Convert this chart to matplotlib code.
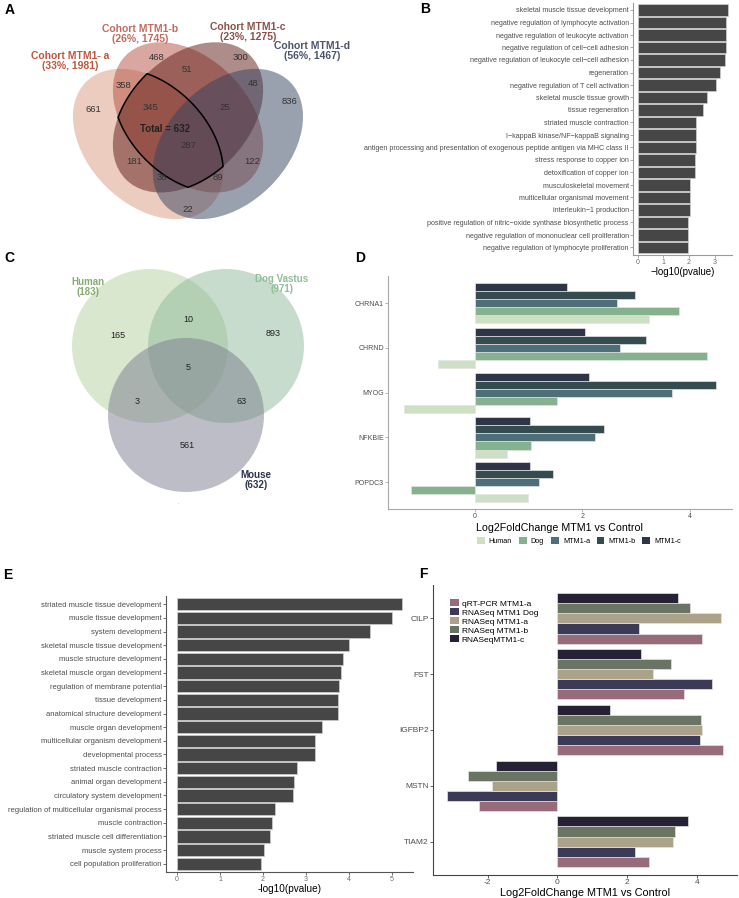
import numpy as np
import matplotlib
matplotlib.use('Agg')
import matplotlib.pyplot as plt
from matplotlib.patches import Ellipse, Patch

plt.rcParams['font.family'] = ['Liberation Sans', 'DejaVu Sans']
plt.rcParams['axes.unicode_minus'] = False

# ---------------- data ----------------
# panel A: four-cohort venn
venn_a_sets = ['Cohort MTM1- a\n(33%, 1981)', 'Cohort MTM1-b\n(26%, 1745)',
               'Cohort MTM1-c\n(23%, 1275)', 'Cohort MTM1-d\n(56%, 1467)']
venn_a_counts = [661, 468, 300, 836, 358, 51, 48, 345, 25, 181, 287, 122, 38, 89, 22]
venn_a_total = 632

# panel B
b_terms = ['skeletal muscle tissue development',
           'negative regulation of lymphocyte activation',
           'negative regulation of leukocyte activation',
           'negative regulation of cell\u2212cell adhesion',
           'negative regulation of leukocyte cell\u2212cell adhesion',
           'regeneration',
           'negative regulation of T cell activation',
           'skeletal muscle tissue growth',
           'tissue regeneration',
           'striated muscle contraction',
           'I\u2212kappaB kinase/NF\u2212kappaB signaling',
           'antigen processing and presentation of exogenous peptide antigen via MHC class II',
           'stress response to copper ion',
           'detoxification of copper ion',
           'musculoskeletal movement',
           'multicellular organismal movement',
           'interleukin\u22121 production',
           'positive regulation of nitric\u2212oxide synthase biosynthetic process',
           'negative regulation of mononuclear cell proliferation',
           'negative regulation of lymphocyte proliferation']
b_vals = [3.51, 3.43, 3.43, 3.43, 3.41, 3.19, 3.07, 2.71, 2.54, 2.27,
          2.27, 2.28, 2.22, 2.23, 2.04, 2.04, 2.04, 1.95, 1.95, 1.95]

# panel C: three-species venn
venn_c_sets = ['Human\n(183)', 'Dog Vastus\n(971)', 'Mouse\n(632)']
venn_c_counts = [165, 10, 893, 5, 3, 63, 561]

# panel D
d_genes = ['CHRNA1', 'CHRND', 'MYOG', 'NFKBIE', 'POPDC3']
d_series = ['Human', 'Dog', 'MTM1-a', 'MTM1-b', 'MTM1-c']
d_human = [3.25, -0.69, -1.33, 0.59, 0.98]
d_dog = [3.81, 4.32, 1.53, 1.04, -1.19]
d_mtm1_a = [2.64, 2.71, 3.68, 2.24, 1.19]
d_mtm1_b = [2.98, 3.18, 4.50, 2.40, 1.46]
d_mtm1_c = [1.72, 2.05, 2.13, 1.03, 1.03]

# panel E
e_terms = ['striated muscle tissue development', 'muscle tissue development',
           'system development', 'skeletal muscle tissue development',
           'muscle structure development', 'skeletal muscle organ development',
           'regulation of membrane potential', 'tissue development',
           'anatomical structure development', 'muscle organ development',
           'multicellular organism development', 'developmental process',
           'striated muscle contraction', 'animal organ development',
           'circulatory system development',
           'regulation of multicellular organismal process',
           'muscle contraction', 'striated muscle cell differentiation',
           'muscle system process', 'cell population proliferation']
e_vals = [5.23, 5.00, 4.50, 3.99, 3.87, 3.82, 3.77, 3.75, 3.75, 3.36,
          3.22, 3.22, 2.78, 2.73, 2.69, 2.27, 2.20, 2.16, 2.02, 1.94]

# panel F
f_genes = ['CILP', 'FST', 'IGFBP2', 'MSTN', 'TIAM2']
f_series = ['qRT-PCR MTM1-a', 'RNASeq MTM1 Dog', 'RNASeq MTM1-a',
            'RNASeq MTM1-b', 'RNASeqMTM1-c']
f_qrt = [4.14, 3.62, 4.75, -2.24, 2.63]
f_dog = [2.34, 4.44, 4.09, -3.17, 2.23]
f_mtm1_a = [4.69, 2.73, 4.14, -1.89, 3.30]
f_mtm1_b = [3.80, 3.26, 4.11, -2.57, 3.38]
f_mtm1_c = [3.45, 2.39, 1.52, -1.77, 3.74]

# ---------------- figure ----------------
W, H = 739, 898
fig = plt.figure(figsize=(W / 100, H / 100), dpi=100)

canvas = fig.add_axes([0, 0, 1, 1])
canvas.set_xlim(0, W)
canvas.set_ylim(H, 0)
canvas.axis('off')


def px_axes(left, top, right, bottom):
    return fig.add_axes([left / W, 1 - bottom / H, (right - left) / W, (bottom - top) / H])


def classic(ax, spine='#555555', lw=0.8):
    for s in ['top', 'right']:
        ax.spines[s].set_visible(False)
    for s in ['left', 'bottom']:
        ax.spines[s].set_color(spine)
        ax.spines[s].set_linewidth(lw)
    ax.tick_params(length=2, width=0.6, color=spine, pad=1)
    ax.set_facecolor('none')


# panel letters
for letter, (x, y) in zip('ABCDEF', [(10, 10), (425, 9), (9, 258), (360, 258), (8, 575), (423, 574)]):
    canvas.text(x, y, letter, fontsize=10, fontweight='bold', ha='center', va='center')

# ---------------- A: 4-set venn ----------------
s, cx0, y0 = 266, 188, 269
ell_geo = [(0.35, 0.47, 45), (0.5, 0.57, 45), (0.5, 0.57, -45), (0.65, 0.47, -45)]
ell_colors = ['#d99b7f', '#b45042', '#5e1a16', '#34425f']
ell = []
for (ex, ey, ang), col in zip(ell_geo, ell_colors):
    c = (cx0 + (ex - 0.5) * s, y0 - ey * s)
    A, B = 0.33 * s, 0.225 * s
    ell.append((c, A, B, np.radians(ang)))
    canvas.add_patch(Ellipse(c, 2 * A, 2 * B, angle=ang, facecolor=col, alpha=0.5, lw=0))


def inside(px, py, e):
    (cx, cy), A, B, phi = e
    dx, dy = px - cx, py - cy
    u = dx * np.cos(phi) + dy * np.sin(phi)
    v = -dx * np.sin(phi) + dy * np.cos(phi)
    return (u / A) ** 2 + (v / B) ** 2 <= 1.0001


# outline of a & b & c
t = np.linspace(0, 2 * np.pi, 3000)
for i in range(3):
    (cx, cy), A, B, phi = ell[i]
    px = cx + A * np.cos(t) * np.cos(phi) - B * np.sin(t) * np.sin(phi)
    py = cy + A * np.cos(t) * np.sin(phi) + B * np.sin(t) * np.cos(phi)
    mask = np.ones_like(t, dtype=bool)
    for j in range(3):
        if j != i:
            mask &= inside(px, py, ell[j])
    px = np.where(mask, px, np.nan)
    py = np.where(mask, py, np.nan)
    canvas.plot(px, py, color='black', lw=1.1, solid_capstyle='round')

a_count_pos = [(93, 110), (157, 57), (240, 57), (289, 102), (123, 86), (187, 70), (253, 84),
               (150, 108), (225, 108), (134, 162), (188, 146), (252, 162), (162, 178), (218, 178), (188, 209)]
for n, (x, y) in zip(venn_a_counts, a_count_pos):
    canvas.text(x, y, str(n), fontsize=6.8, color='#333333', ha='center', va='center')
canvas.text(165, 129, f'Total = {venn_a_total}', fontsize=7, fontweight='bold', color='#222222',
            ha='center', va='center')

a_lab_pos = [(70, 61), (140, 34), (248, 32), (312, 51)]
a_lab_col = ['#c0573d', '#c26a5e', '#8d504b', '#4a5471']
for lab, (x, y), col in zip(venn_a_sets, a_lab_pos, a_lab_col):
    canvas.text(x, y, lab, fontsize=7.5, fontweight='bold', color=col, ha='center', va='center',
                linespacing=0.95)

# ---------------- C: 3-set venn ----------------
circ_pos = [(150, 346), (226, 346), (186, 415)]
circ_cols = ['#b5d0a0', '#91bb9a', '#7b7d8e']
for (x, y), col in zip(circ_pos, circ_cols):
    canvas.add_patch(Ellipse((x, y), 156, 154, facecolor=col, alpha=0.5, lw=0))
c_count_pos = [(118, 335), (188, 320), (273, 334), (188, 367), (137, 402), (242, 402), (187, 446)]
for n, (x, y) in zip(venn_c_counts, c_count_pos):
    canvas.text(x, y, str(n), fontsize=6.5, color='#222222', ha='center', va='center')
c_lab_pos = [(88, 287), (282, 284), (256, 480)]
c_lab_col = ['#86ad70', '#8fbe98', '#2c3450']
for lab, (x, y), col in zip(venn_c_sets, c_lab_pos, c_lab_col):
    canvas.text(x, y, lab, fontsize=7, fontweight='bold', color=col, ha='center', va='center',
                linespacing=0.9)
canvas.text(178, 503, '.', fontsize=4, color='#999999', ha='center', va='center')

# ---------------- B ----------------
ax = px_axes(633, 2.5, 732, 255)
classic(ax, spine='#9a9a9a')
yb = np.arange(len(b_terms))
ax.barh(yb, b_vals, height=0.9, color='#464646', edgecolor='#cfcfcf', linewidth=0.5)
ax.set_yticks(yb, b_terms)
ax.tick_params(axis='y', labelsize=5.1, labelcolor='#4d4d4d')
ax.set_ylim(len(b_terms) - 0.4, -0.6)
ax.set_xlim(-0.175, 3.675)
ax.set_xticks([0, 1, 2, 3])
ax.tick_params(axis='x', labelsize=5, labelcolor='#6d6d6d')
ax.set_xlabel('\u2212log10(pvalue)', fontsize=7, labelpad=0.5)

# ---------------- D ----------------
ax = px_axes(388, 276.4, 732, 509)
classic(ax, spine='#a8a8a8')
d_vals = [d_human, d_dog, d_mtm1_a, d_mtm1_b, d_mtm1_c]
d_cols = ['#cde0c3', '#85b18f', '#4e6e79', '#344b4f', '#2d3546']
yd = np.arange(len(d_genes))
for j, (vals, col) in enumerate(zip(d_vals, d_cols)):
    ax.barh(yd + 0.36 - j * 0.18, vals, height=0.18, color=col, edgecolor='#e4e4e4',
            linewidth=0.5, label=d_series[j])
ax.set_yticks(yd, d_genes)
ax.set_ylim(len(d_genes) - 0.4, -0.6)
ax.set_xlim(-1.62, 4.79)
ax.set_xticks([0, 2, 4])
ax.tick_params(labelsize=5, labelcolor='#4d4d4d')
ax.set_xlabel('Log2FoldChange MTM1 vs Control', fontsize=7.7, labelpad=2)
hd = [Patch(facecolor=c, edgecolor='none') for c in d_cols]
fig.legend(hd, d_series, loc='center', bbox_to_anchor=(579 / W, 1 - 541 / H), ncol=5,
           frameon=False, fontsize=5.2, handlelength=1.1, handleheight=1.1, handletextpad=0.6,
           columnspacing=0.9, borderpad=0)

# ---------------- E ----------------
ax = px_axes(166, 596, 413, 872)
classic(ax, spine='#555555')
ye = np.arange(len(e_terms))
ax.barh(ye, e_vals, height=0.9, color='#464646', edgecolor='#cfcfcf', linewidth=0.5)
ax.set_yticks(ye, e_terms)
ax.tick_params(axis='y', labelsize=5.5, labelcolor='#4d4d4d')
ax.set_ylim(len(e_terms) - 0.4, -0.6)
ax.set_xlim(-0.26, 5.49)
ax.set_xticks([0, 1, 2, 3, 4, 5])
ax.tick_params(axis='x', labelsize=5, labelcolor='#6d6d6d')
ax.set_xlabel('-log10(pvalue)', fontsize=7.2, labelpad=0.5)

# ---------------- F ----------------
ax = px_axes(433, 585, 737, 875)
classic(ax, spine='#444444')
f_vals = [f_qrt, f_dog, f_mtm1_a, f_mtm1_b, f_mtm1_c]
f_cols = ['#976b79', '#3c3a57', '#aca28a', '#697562', '#242234']
yf = np.arange(len(f_genes))
for j, (vals, col) in enumerate(zip(f_vals, f_cols)):
    ax.barh(yf + 0.36 - j * 0.18, vals, height=0.18, color=col, edgecolor='#e4e4e4',
            linewidth=0.5, label=f_series[j])
ax.set_yticks(yf, f_genes)
ax.set_ylim(len(f_genes) - 0.4, -0.6)
ax.set_xlim(-3.57, 5.15)
ax.set_xticks([-2, 0, 2, 4])
ax.tick_params(labelsize=6, labelcolor='#4d4d4d')
ax.set_xlabel('Log2FoldChange MTM1 vs Control', fontsize=7.8, labelpad=1)
hf = [Patch(facecolor=c, edgecolor='none') for c in f_cols]
fig.legend(hf, f_series, loc='upper left', bbox_to_anchor=(450 / W, 1 - 599 / H), ncol=1,
           frameon=False, fontsize=6, handlelength=1.1, handleheight=1.0, handletextpad=0.3,
           labelspacing=0.05, borderpad=0, borderaxespad=0)

fig.savefig('out.png', dpi=100, facecolor='white')
